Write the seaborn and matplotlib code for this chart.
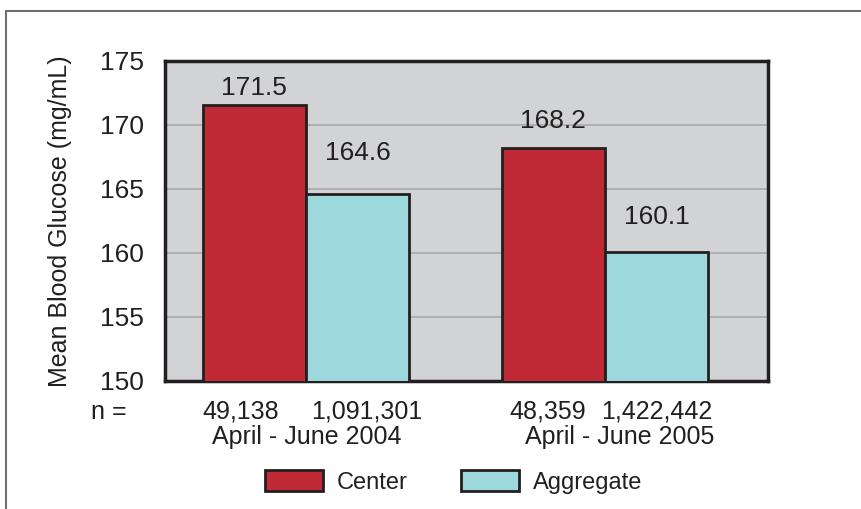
import matplotlib
matplotlib.use("Agg")
import matplotlib.pyplot as plt
import matplotlib.transforms as mtransforms
import seaborn as sns
import pandas as pd
from matplotlib.lines import Line2D
from matplotlib.patches import Patch

# ---- data ----
periods = ["April - June 2004", "April - June 2005"]
series = ["Center", "Aggregate"]
center_vals = [171.5, 168.2]
aggregate_vals = [164.6, 160.1]
n_center = ["49,138", "48,359"]
n_aggregate = ["1,091,301", "1,422,442"]
yticks = [150, 155, 160, 165, 170, 175]
ylabel = "Mean Blood Glucose (mg/mL)"

colors = {"Center": "#c02a37", "Aggregate": "#9cd8dc"}
edge = "#231f20"
bar_width = 0.692

df = pd.DataFrame({
    "period": periods * 2,
    "series": ["Center"] * 2 + ["Aggregate"] * 2,
    "value": center_vals + aggregate_vals,
})

sns.set_theme(style="white")
plt.rcParams["font.family"] = ["Liberation Sans", "DejaVu Sans"]
plt.rcParams["text.color"] = edge

fig = plt.figure(figsize=(8.61, 5.09), dpi=100)
ax = fig.add_axes([165 / 861, 1 - 381 / 509, (768 - 165) / 861, (381 - 60.5) / 509])
ax.set_facecolor("#d2d3d5")

sns.barplot(data=df, x="period", y="value", hue="series", order=periods,
            hue_order=series, palette=colors, width=bar_width, gap=0,
            edgecolor=edge, linewidth=2, saturation=1, ax=ax, legend=False,
            errorbar=None, zorder=3)

ax.set_ylim(150, 175)
ax.set_xlim(-0.4716, 1.545)
ax.set_yticks(yticks)
ax.set_yticklabels([str(t) for t in yticks], fontsize=19, color=edge)
ax.tick_params(axis="y", length=0, pad=15)
ax.tick_params(axis="x", length=0, labelbottom=False)
ax.set_xlabel("")
ax.set_ylabel(ylabel, fontsize=18, color=edge, labelpad=20)
ax.yaxis.grid(True, color="#a9a9ab", linewidth=1.2, zorder=0)
ax.set_axisbelow(True)
for s in ax.spines.values():
    s.set_color(edge)
    s.set_linewidth(2.5)
    s.set_visible(True)

# value labels above bars (baseline positions in data units)
label_y_center = [172.34, 169.77]
label_y_agg = [167.27, 162.27]
for i in range(len(periods)):
    ax.text(i - bar_width / 4, label_y_center[i], f"{center_vals[i]:.1f}",
            ha="center", va="baseline", fontsize=19, color=edge, zorder=5)
    ax.text(i + bar_width / 4, label_y_agg[i], f"{aggregate_vals[i]:.1f}",
            ha="center", va="baseline", fontsize=19, color=edge, zorder=5)

# n row and period labels below axes
trans = mtransforms.blended_transform_factory(ax.transData, fig.transFigure)
n_x = [-0.217, 0.204, 0.809, 1.174]
n_labels = [n_center[0], n_aggregate[0], n_center[1], n_aggregate[1]]
row_n_y = 1 - 412 / 509
row_p_y = 1 - 437 / 509
for x, t in zip(n_x, n_labels):
    ax.text(x, row_n_y, t, transform=trans, ha="center", va="center",
            fontsize=18, clip_on=False)
fig.text(109 / 861, row_n_y, "n =", ha="center", va="center", fontsize=18)
period_x = [0.003, 1.05]
for x, t in zip(period_x, periods):
    ax.text(x, row_p_y, t, transform=trans, ha="center", va="center",
            fontsize=18, clip_on=False)

# legend
handles = [Patch(facecolor=colors[s], edgecolor=edge, linewidth=2, label=s) for s in series]
fig.legend(handles=handles, loc="center", bbox_to_anchor=(453.5 / 861, 1 - 482 / 509),
           ncol=2, frameon=False, fontsize=17, handlelength=2.46, handleheight=0.97,
           handletextpad=0.59, columnspacing=2.25)

# outer frame (left and top edges)
fig.add_artist(Line2D([6 / 861, 6 / 861], [0, 1 - 10.5 / 509], transform=fig.transFigure,
                      color="#6d6e70", linewidth=1.5))
fig.add_artist(Line2D([6 / 861, 1], [1 - 10.5 / 509, 1 - 10.5 / 509], transform=fig.transFigure,
                      color="#6d6e70", linewidth=1.5))

fig.savefig("out.png", dpi=100)
